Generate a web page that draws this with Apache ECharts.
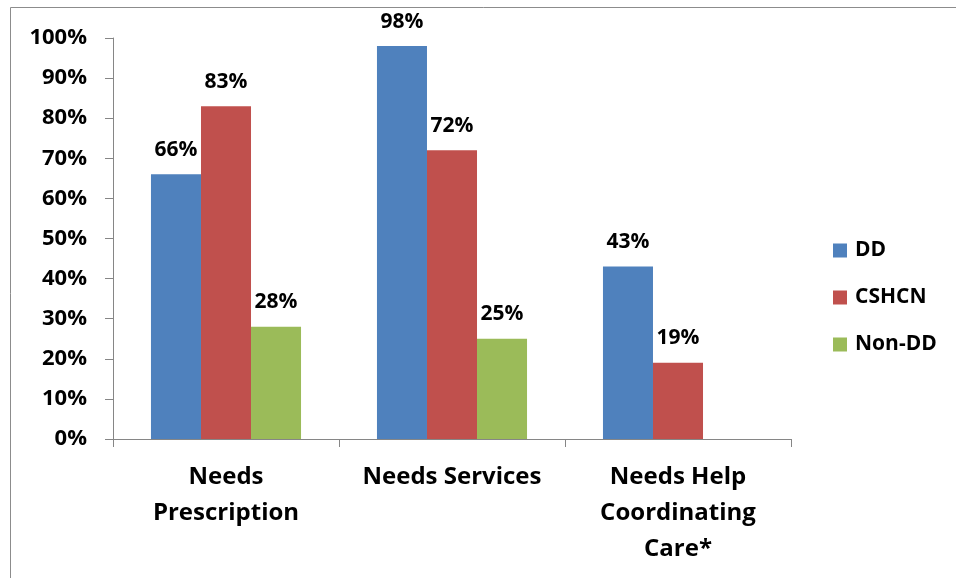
<!DOCTYPE html>
<html>
<head>
<meta charset="utf-8">
<script src="https://cdn.jsdelivr.net/npm/echarts@6/dist/echarts.min.js"></script>
<style>
html,body{margin:0;padding:0;background:#fff;}
#c{width:956px;height:578px;}
</style>
</head>
<body>
<div id="c"></div>
<script>
const categories = ["Needs\nPrescription", "Needs Services", "Needs Help\nCoordinating\nCare*"];
const seriesNames = ["DD", "CSHCN", "Non-DD"];
const ddValues = [66, 98, 43];
const cshcnValues = [83, 72, 19];
const nonDdValues = [28, 25, null];
const yTicks = [0, 10, 20, 30, 40, 50, 60, 70, 80, 90, 100];

const colors = ["#4F81BD", "#C0504D", "#9BBB59"];
const FONT = "Open Sans";
const chart = echarts.init(document.getElementById('c'));
const labelStyle = {
  show: true, position: 'top', distance: 14,
  formatter: p => p.value == null ? '' : p.value + '%',
  fontFamily: FONT, fontWeight: 'bold', fontSize: 21, color: '#000'
};
const allValues = [ddValues, cshcnValues, nonDdValues];
chart.setOption({
  animation: false,
  color: colors,
  graphic: [{
    type: 'rect', shape: {x: 10.5, y: 7.5, width: 2000, height: 2000},
    style: {fill: 'none', stroke: '#8c8c8c', lineWidth: 1}
  }],
  grid: {left: 113, right: 165, top: 38, bottom: 139},
  legend: {
    orient: 'vertical', left: 828, top: 235,
    itemWidth: 14, itemHeight: 14, itemGap: 26, icon: 'rect',
    textStyle: {fontFamily: FONT, fontWeight: 'bold', fontSize: 21, lineHeight: 21, color: '#000', padding: [0, 0, 0, 3]},
    data: seriesNames
  },
  xAxis: {
    type: 'category', data: categories,
    axisLine: {lineStyle: {color: '#868686', width: 1}},
    axisTick: {show: true, length: 8, alignWithLabel: false, lineStyle: {color: '#868686'}},
    axisLabel: {fontFamily: FONT, fontWeight: 'bold', fontSize: 24, color: '#000', margin: 20, lineHeight: 36, interval: 0}
  },
  yAxis: {
    type: 'value', min: 0, max: 100, interval: 10,
    axisLine: {show: true, lineStyle: {color: '#868686', width: 1}},
    axisTick: {show: true, length: 8, lineStyle: {color: '#868686'}},
    splitLine: {show: false},
    axisLabel: {fontFamily: FONT, fontWeight: 'bold', fontSize: 22, color: '#000', margin: 26,
      formatter: v => yTicks.includes(v) ? v + '%' : ''}
  },
  series: seriesNames.map((n, i) => ({
    name: n, type: 'bar', data: allValues[i],
    barGap: '0%', barCategoryGap: '33.6%',
    label: labelStyle
  }))
});
</script>
</body>
</html>
